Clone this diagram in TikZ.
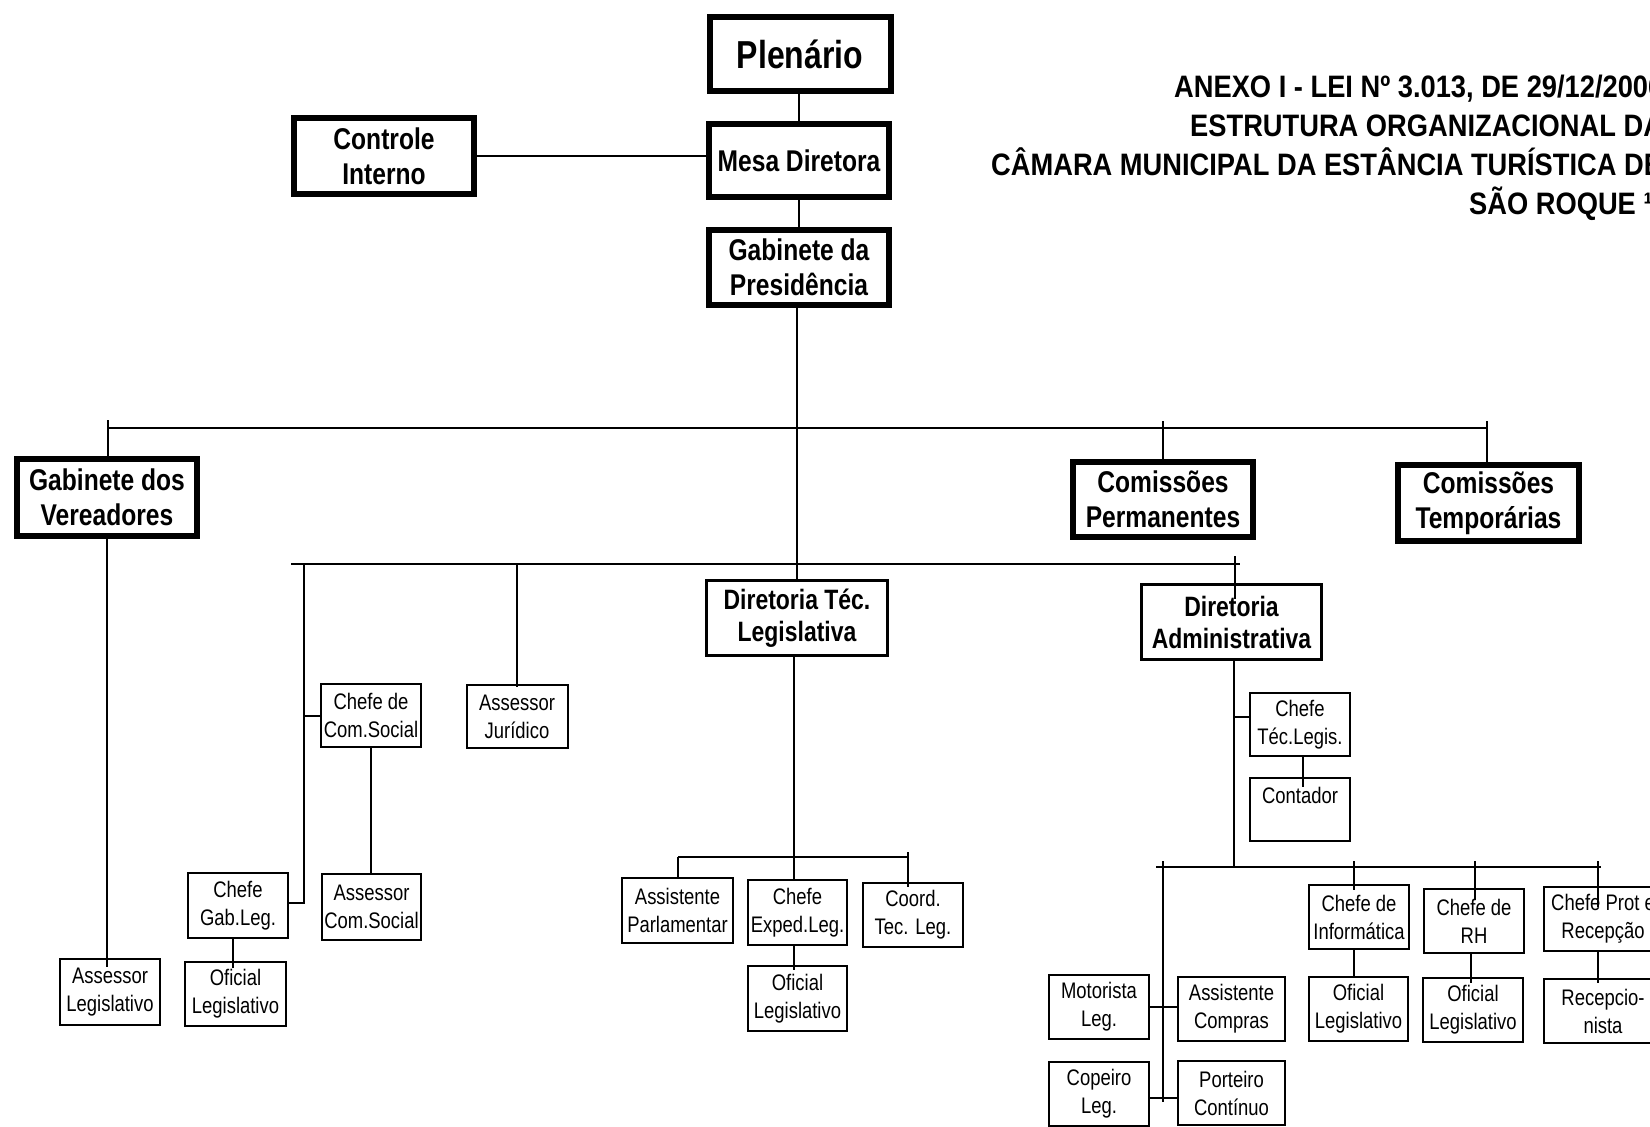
\documentclass[tikz,border=0pt]{standalone}
\usepackage{fontspec}
\setmainfont{Liberation Sans}[FakeStretch=0.82]
\newfontfamily\titlefont{Liberation Sans}[FakeStretch=0.88]
\begin{document}
\begin{tikzpicture}[x=1pt,y=-1pt,
  bigbox/.style={draw, line width=6pt, rectangle, inner sep=0pt, align=center, font=\bfseries\fontsize{30}{35}\selectfont},
  midbox/.style={draw, line width=3pt, rectangle, inner sep=0pt, align=center, font=\bfseries\fontsize{28}{32}\selectfont},
  smallbox/.style={draw, line width=2pt, rectangle, inner sep=0pt, align=center, font=\fontsize{22.5}{28}\selectfont},
  sz/.style 2 args={minimum width=#1pt, minimum height=#2pt},
  conn/.style={line width=2pt},
  titletext/.style={inner sep=0pt, anchor=base west, font=\titlefont\bfseries\fontsize{31}{39}\selectfont}]
\path[use as bounding box] (0,0) rectangle (1650,1127);
\fill[white] (0,0) rectangle (1650,1127);
\clip (0,0) rectangle (1650,1127);

% title
\node[titletext] (t1) at (1174,97) {ANEXO I - LEI Nº 3.013, DE 29/12/2006};
\node[titletext] (t2) at (1190,136) {ESTRUTURA ORGANIZACIONAL DA};
\node[titletext] (t3) at (991,175) {CÂMARA MUNICIPAL DA ESTÂNCIA TURÍSTICA DE};
\node[titletext] (t4) at (1469,214) {SÃO ROQUE ¹};

% top boxes
\node[bigbox, sz={181}{74}, font=\bfseries\fontsize{39}{45}\selectfont] (plen) at (800,54) {Plenário};
\node[bigbox, sz={180}{73}] (mesa) at (799,160.5) {Mesa Diretora};
\node[bigbox, sz={180}{75}] (gabpres) at (799,267.5) {Gabinete da\\Presidência};
\node[bigbox, sz={180}{76}] (ctrl) at (384,156) {Controle\\Interno};

\node[bigbox, sz={180}{77}] (gabver) at (107,497.5) {Gabinete dos\\Vereadores};
\node[bigbox, sz={180}{75}] (comperm) at (1163,499.5) {Comissões\\Permanentes};
\node[bigbox, sz={181}{76}] (comtemp) at (1488.5,503) {Comissões\\Temporárias};

\node[midbox, sz={181}{75}] (dirtec) at (797,618) {Diretoria Téc.\\Legislativa};
\node[midbox, sz={180}{75}] (diradm) at (1231.5,622) {Diretoria\\Administrativa};

% small boxes left
\node[smallbox, sz={100}{66}] (asslegis) at (110,992) {Assessor\\Legislativo};
\node[smallbox, sz={100}{65}] (chefegab) at (238,905.5) {Chefe\\Gab.Leg.};
\node[smallbox, sz={101}{64}] (oflft) at (235.5,994) {Oficial\\Legislativo};
\node[smallbox, sz={100}{63}] (chefecom) at (371,715.5) {Chefe de\\Com.Social};
\node[smallbox, sz={99}{66}] (asscom) at (371.5,907) {Assessor\\Com.Social};
\node[smallbox, sz={101}{63}] (assjur) at (517,716.5) {Assessor\\Jurídico};

% small boxes middle
\node[smallbox, sz={111}{65}] (asspar) at (677.5,910.5) {Assistente\\Parlamentar};
\node[smallbox, sz={99}{65}] (chefexp) at (797.5,912.5) {Chefe\\Exped.Leg.};
\node[smallbox, sz={100}{64}] (coord) at (913,915) {Coord.\\Tec. Leg.};
\node[smallbox, sz={99}{65}] (ofmid) at (797.5,998.5) {Oficial\\Legislativo};

% small boxes right
\node[smallbox, sz={100}{63}] (chefetec) at (1300,724.5) {Chefe\\Téc.Legis.};
\node[smallbox, sz={100}{63}] (contador) at (1300,809.5) {Contador\\\mbox{}};
\node[smallbox, sz={100}{64}] (chefeinf) at (1359,917) {Chefe de\\Informática};
\node[smallbox, sz={100}{64}] (cheferh) at (1474,921) {Chefe de\\RH};
\node[smallbox, sz={118}{64}] (chefeprot) at (1603,919) {Chefe Prot e\\Recepção};
\node[smallbox, sz={99}{64}] (ofinf) at (1358.5,1009) {Oficial\\Legislativo};
\node[smallbox, sz={100}{64}] (ofrh) at (1473,1010) {Oficial\\Legislativo};
\node[smallbox, sz={118}{64}] (recep) at (1603,1011) {Recepcio-\\nista};
\node[smallbox, sz={100}{64}] (motor) at (1099,1007) {Motorista\\Leg.};
\node[smallbox, sz={107}{64}] (asscomp) at (1231.5,1009) {Assistente\\Compras};
\node[smallbox, sz={100}{64}] (copeiro) at (1099,1094) {Copeiro\\Leg.};
\node[smallbox, sz={107}{64}] (porteiro) at (1231.5,1093) {Porteiro\\Contínuo};

% ---- connectors top
\draw[conn] (plen.south -| mesa.north) -- (mesa.north);
\draw[conn] (mesa.south) -- (gabpres.north);
\draw[conn] (ctrl.east) -- (ctrl.east -| mesa.west);
\draw[conn] (gabpres.south -| dirtec.north) -- (dirtec.north);

% top bus
\coordinate (busA) at (108,428);
\coordinate (busB) at (1487,428);
\draw[conn] (busA) -- (busB);
\draw[conn] (gabver.north -| busA) -- (busA) -- ++(0,-8);
\draw[conn] (comperm.north) -- (comperm.north |- busA) -- ++(0,-7);
\draw[conn] (comtemp.north -| busB) -- (busB) -- ++(0,-7);

% second bus
\coordinate (bus2A) at (291,564);
\coordinate (bus2B) at (1240,564);
\draw[conn] (bus2A) -- (bus2B);
\coordinate (v2top) at (304,564);
\coordinate (v2bot) at (304,903);
\draw[conn] (v2top) -- (v2bot) -- (v2bot -| chefegab.east);
\draw[conn] (chefecom.west) -- (chefecom.west -| v2top);
\draw[conn] (assjur.north |- bus2A) -- (assjur.north) -- ++(0,3);
\coordinate (dd) at (1235,556);
\draw[conn] (dd) -- (diradm.north -| dd) -- ++(0,16);

% left group
\draw[conn] (gabver.south) -- (asslegis.north -| gabver.south) -- ++(0,9);
\draw[conn] (chefecom.south) -- (asscom.north -| chefecom.south);
\coordinate (cg) at (233,0);
\draw[conn] (chefegab.south -| cg) -- (oflft.north -| cg) -- ++(0,7);

% middle group
\coordinate (t3c) at (794,857);
\coordinate (b3L) at (678,857);
\coordinate (b3R) at (908,857);
\draw[conn] (dirtec.south -| t3c) -- (chefexp.north -| t3c);
\draw[conn] (b3L) -- (b3R);
\draw[conn] (b3L) -- (asspar.north -| b3L);
\draw[conn] (b3R) -- ++(0,-5);
\draw[conn] (b3R) -- (coord.north -| b3R) -- ++(0,5);
\draw[conn] (chefexp.south -| t3c) -- (ofmid.north -| t3c) -- ++(0,5);

% right group
\coordinate (da) at (1234,867);
\draw[conn] (diradm.south -| da) -- (da);
\coordinate (ct) at ([yshift=8pt]chefetec.west);
\draw[conn] (ct) -- (ct -| da);
\coordinate (cx) at (1303,0);
\draw[conn] (chefetec.south -| cx) -- (contador.north -| cx) -- ++(0,10);

\coordinate (b4L) at (1156,867);
\coordinate (b4R) at (1601,867);
\draw[conn] (b4L) -- (b4R);
\coordinate (lv) at (1163,861);
\coordinate (lvb) at (1163,1102);
\draw[conn] (lv) -- (lvb);

\coordinate (xi) at (1354,861);
\coordinate (xr) at (1475,861);
\coordinate (xp) at (1598,861);
\draw[conn] (xi) -- (chefeinf.north -| xi) -- ++(0,6);
\draw[conn] (xr) -- (cheferh.north -| xr) -- ++(0,12);
\draw[conn] (xp) -- (chefeprot.north -| xp) -- ++(0,21);

\coordinate (yi) at (1354,0);
\coordinate (yr) at (1471,0);
\coordinate (yp) at (1598,0);
\draw[conn] (chefeinf.south -| yi) -- (ofinf.north -| yi);
\draw[conn] (cheferh.south -| yr) -- (ofrh.north -| yr) -- ++(0,6);
\draw[conn] (chefeprot.south -| yp) -- (recep.north -| yp) -- ++(0,5);

\draw[conn] (motor.east) -- (motor.east -| asscomp.west);
\coordinate (cp) at ([yshift=-4pt]copeiro.east);
\draw[conn] (cp) -- (cp -| porteiro.west);
\end{tikzpicture}
\end{document}
